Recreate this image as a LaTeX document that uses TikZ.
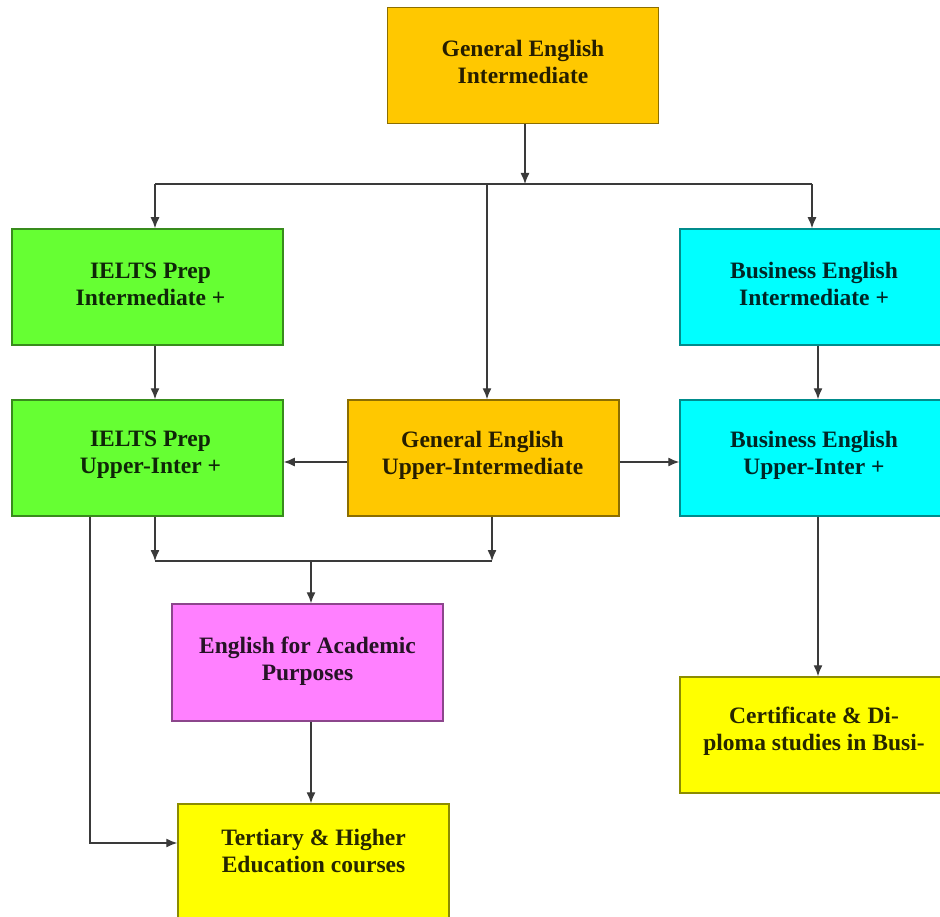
\documentclass[tikz,border=0pt]{standalone}
\usepackage{fontspec}
\setmainfont{Liberation Serif}
\usetikzlibrary{arrows.meta}
\definecolor{cOrange}{HTML}{FFC800}
\definecolor{cGreen}{HTML}{66FF33}
\definecolor{cCyan}{HTML}{00FFFF}
\definecolor{cPink}{HTML}{FF80FF}
\definecolor{cYellow}{HTML}{FFFF00}
\definecolor{lineC}{HTML}{3A3A3A}
\tikzset{
  box/.style={draw=#1!55!black, line width=1.5pt, fill=#1, minimum width=271pt, minimum height=116pt,
    inner sep=0pt},
  txt/.style={inner sep=0pt, align=center, font=\fontsize{23.5}{27}\selectfont\bfseries, text=#1!15!black},
  arr/.style={draw=lineC, line width=1.3pt, -{Latex[length=11pt,width=9pt]}},
  ln/.style={draw=lineC, line width=1.3pt},
}
\begin{document}
\begin{tikzpicture}[x=1pt,y=-1pt]
\useasboundingbox (0,0) rectangle (940,917);
\begin{scope}
\clip (0,0) rectangle (940,917);
% boxes
\node[box=cOrange] (gei) at (523,65.5) {};
\node[box=cGreen] (ieltsi) at (147.5,287) {};
\node[box=cCyan, minimum width=262pt] (busi) at (811,287) {};
\node[box=cGreen] (ieltsu) at (147.5,458) {};
\node[box=cOrange] (geu) at (483.5,458) {};
\node[box=cCyan, minimum width=262pt] (busu) at (811,458) {};
\node[box=cPink, minimum height=117pt] (eap) at (307.5,662.5) {};
\node[box=cYellow, minimum height=118pt] (tert) at (313.5,863) {};
\node[box=cYellow, minimum width=262pt] (cert) at (811,735) {};
\end{scope}
% texts
\node[txt=cOrange] (geiT) at ([yshift=4pt]gei.center) {General English\\Intermediate};
\node[txt=cGreen] (ieltsiT) at ([xshift=3pt,yshift=3pt]ieltsi.center) {IELTS Prep\\Intermediate +};
\node[txt=cCyan] (busiT) at ([xshift=3pt,yshift=3pt]busi.center) {Business English\\Intermediate +};
\node[txt=cGreen] (ieltsuT) at ([xshift=3pt,yshift=3pt]ieltsu.center) {IELTS Prep\\Upper-Inter +};
\node[txt=cOrange] (geuT) at ([xshift=-1pt,yshift=3pt]geu.center) {General English\\Upper-Intermediate};
\node[txt=cCyan] (busuT) at ([xshift=3pt,yshift=3pt]busu.center) {Business English\\Upper-Inter +};
\node[txt=cPink] (eapT) at ([yshift=1pt]eap.center) {English for Academic\\Purposes};
\node[txt=cYellow] (tertT) at ([yshift=12pt]tert.center) {Tertiary \& Higher\\Education courses};
\node[txt=cYellow] (certT) at ([xshift=3pt,yshift=4pt]cert.center) {Certificate \& Di-\\ploma studies in Busi-};
% junction coordinates
\coordinate (j0) at (525,184);
\coordinate (jl) at (155,184);
\coordinate (jm) at (487,184);
\coordinate (jr) at (812,184);
\coordinate (bl) at (155,561);
\coordinate (bm) at (311,561);
\coordinate (br) at (492,561);
\coordinate (bx) at (818,0);
\coordinate (lx) at (90,843);
% top split
\draw[arr] (j0 |- gei.south) -- (j0);
\draw[ln] (jl) -- (jr);
\draw[arr] (jl) -- (jl |- ieltsi.north);
\draw[arr] (jm) -- (jm |- geu.north);
\draw[arr] (jr) -- (jr |- busi.north);
% vertical chains
\draw[arr] (jl |- ieltsi.south) -- (jl |- ieltsu.north);
\draw[arr] (bx |- busi.south) -- (bx |- busu.north);
\draw[arr] (bx |- busu.south) -- (bx |- cert.north);
% sideways from GE upper
\draw[arr] (geu.west |- 0,462) -- (ieltsu.east |- 0,462);
\draw[arr] (geu.east |- 0,462) -- (busu.west |- 0,462);
% merge to EAP
\draw[arr] (bl |- ieltsu.south) -- (bl);
\draw[arr] (br |- geu.south) -- (br);
\draw[ln] (bl) -- (br);
\draw[arr] (bm) -- (bm |- eap.north);
\draw[arr] (bm |- eap.south) -- (bm |- tert.north);
% long path to tertiary
\draw[arr] (lx |- ieltsu.south) -- (lx) -- (tert.west |- lx);
\end{tikzpicture}
\end{document}
